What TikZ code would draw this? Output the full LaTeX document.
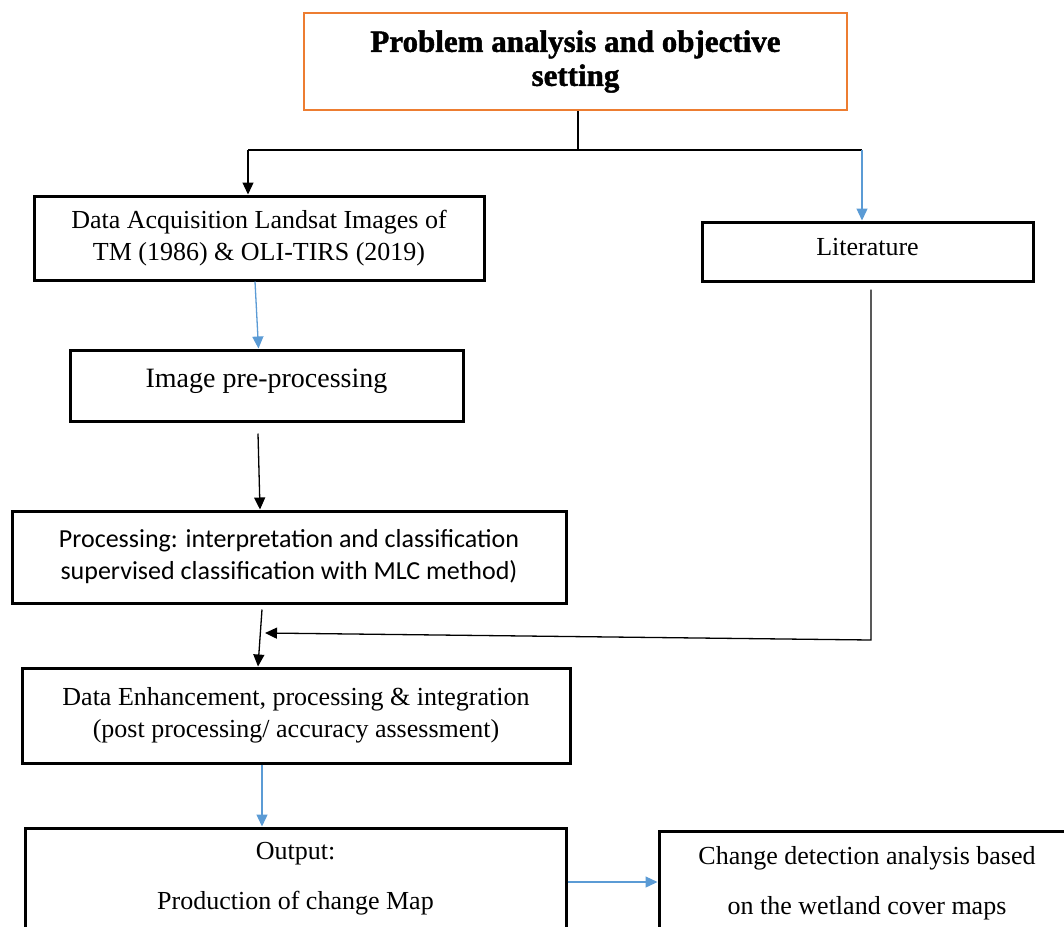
\documentclass[tikz,border=0pt]{standalone}
\usepackage{fontspec}
\setmainfont{Liberation Serif}[BoldFeatures={FakeBold=1.4}]
\newfontfamily\calib{Carlito}
\usetikzlibrary{arrows.meta,calc}
\definecolor{orng}{HTML}{ED7D31}
\definecolor{bluearr}{HTML}{5B9BD5}
\begin{document}
\begin{tikzpicture}[x=1pt,y=-1pt,
  box/.style={draw, line width=3pt, inner sep=0pt, align=center,
    font=\fontsize{26}{32}\selectfont},
  conn/.style={line width=1.3pt},
  blk/.style={conn, -{Triangle[length=12pt,width=11pt]}},
  blu/.style={conn, draw=bluearr, -{Triangle[length=12pt,width=11pt]}, color=bluearr},
]
\useasboundingbox (0,0) rectangle (1064,926);
\clip (0,0) rectangle (1064,926);

\node[draw=orng, line width=2.5pt, minimum width=543pt, minimum height=97pt,
  align=center, font=\fontsize{31}{34}\selectfont\bfseries] (top) at (575.5,61.5)
  {Problem analysis and objective\\setting};

\node[box, minimum width=450pt, minimum height=84pt] (acq) at (259,238)
  {Data Acquisition Landsat Images of\\TM (1986) \& OLI-TIRS (2019)};

\node[box, minimum width=331pt, minimum height=59pt, text depth=9pt] (lit) at (867.5,251.5)
  {Literature};

\node[box, minimum width=393pt, minimum height=71pt,
  font=\fontsize{28}{32}\selectfont, text depth=14pt] (pre) at (266.5,385.5)
  {Image pre-processing};

\node[box, minimum width=554pt, minimum height=92pt,
  font=\calib\fontsize{26}{32}\selectfont] (proc) at (289,557)
  {Processing: interpretation and classification\\supervised classification with MLC method)};

\node[box, minimum width=548pt, minimum height=95pt] (enh) at (296,715.5)
  {Data Enhancement, processing \& integration\\(post processing/ accuracy assessment)};

\node[box, minimum width=541pt, minimum height=102pt,
  font=\fontsize{26}{50}\selectfont] (out) at (295.5,879)
  {Output:\\Production of change Map};

\node[box, minimum width=416pt, minimum height=104pt,
  font=\fontsize{26}{50}\selectfont] (chg) at (867,883)
  {Change detection analysis based\\on the wetland cover maps};

% connectors
\coordinate (hL) at (248,150);
\coordinate (hR) at (862,150);
\coordinate (hM) at (578,150);
\draw[conn] (top.south -| hM) -- (hM);
\draw[conn] (hL) -- (hR);
\draw[blk] (hL) -- (hL |- acq.north);
\draw[blu] (hR) -- (hR |- lit.north);
\draw[blu] ([xshift=-4pt]acq.south) -- ([xshift=-8pt]pre.north);
\draw[blk] ([xshift=-8.5pt,yshift=-11pt]pre.south) -- ([xshift=-29pt]proc.north);
\draw[blk] ([xshift=-27pt,yshift=-5pt]proc.south) -- ([xshift=-38pt]enh.north);
\coordinate (lc) at (871,640);
\coordinate (mg) at (265,633);
\draw[blk] ([xshift=3.5pt,yshift=-7pt]lit.south) -- (lc) -- (mg);
\draw[blu] ([xshift=-34pt]enh.south) -- ([xshift=-33.5pt]out.north);
\draw[blu] ([yshift=-3pt]out.east) -- ([yshift=1pt]chg.west);
\end{tikzpicture}
\end{document}
